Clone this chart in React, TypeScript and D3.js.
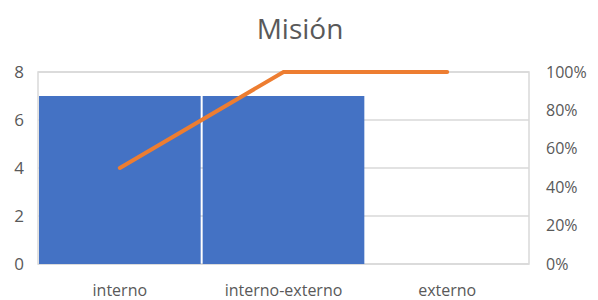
import React, { useRef, useEffect } from 'react';
import * as d3 from 'd3';

const categories = ['interno', 'interno-externo', 'externo'];
const counts = [7, 7, 0];
const cumulativePct = [0.5, 1, 1];
const leftTicks = [0, 2, 4, 6, 8];
const rightTicks = [0, 0.2, 0.4, 0.6, 0.8, 1];

const App: React.FC = () => {
  const svgRef = useRef<SVGSVGElement>(null);

  useEffect(() => {
    if (!svgRef.current) return;
    const svg = d3.select(svgRef.current);
    svg.selectAll('*').remove();

    const left = 38, right = 529, top = 72, bottom = 264;
    const font = "'Open Sans', sans-serif";
    const textColor = '#595959';

    const x = d3.scaleBand().domain(categories).range([left, right]).padding(0);
    const y = d3.scaleLinear().domain([0, 8]).range([bottom, top]);
    const y2 = d3.scaleLinear().domain([0, 1]).range([bottom, top]);

    svg.append('rect').attr('width', 598).attr('height', 300).attr('fill', '#fff');

    // Title
    svg.append('text')
      .attr('x', 300).attr('y', 39)
      .attr('text-anchor', 'middle')
      .style('font-family', font).style('font-size', '28px')
      .style('fill', textColor)
      .text('Misión');

    // Gridlines
    svg.append('g').selectAll('line').data(leftTicks).enter().append('line')
      .attr('x1', left).attr('x2', right)
      .attr('y1', d => y(d)).attr('y2', d => y(d))
      .attr('stroke', '#d9d9d9').attr('stroke-width', 1.5);

    svg.append('rect')
      .attr('x', left).attr('y', top)
      .attr('width', right - left).attr('height', bottom - top)
      .attr('fill', 'none').attr('stroke', '#d9d9d9').attr('stroke-width', 1.5);

    // Bars
    svg.append('g').selectAll('rect').data(counts).enter().append('rect')
      .attr('x', (d, i) => x(categories[i])! + 1)
      .attr('width', x.bandwidth() - 2)
      .attr('y', d => y(d))
      .attr('height', d => bottom - y(d))
      .attr('fill', '#4472C4');

    // Cumulative line
    const line = d3.line<number>()
      .x((d, i) => x(categories[i])! + x.bandwidth() / 2)
      .y(d => y2(d));
    svg.append('path')
      .datum(cumulativePct)
      .attr('d', line)
      .attr('fill', 'none')
      .attr('stroke', '#ED7D31')
      .attr('stroke-width', 4)
      .attr('stroke-linecap', 'round');

    // Left axis labels
    svg.append('g').selectAll('text').data(leftTicks).enter().append('text')
      .attr('x', 24).attr('y', d => y(d))
      .attr('dy', '0.35em')
      .attr('text-anchor', 'end')
      .style('font-family', font).style('font-size', '17px')
      .style('fill', textColor)
      .text(d => d);

    // Right axis labels
    svg.append('g').selectAll('text').data(rightTicks).enter().append('text')
      .attr('x', 546).attr('y', d => y2(d))
      .attr('dy', '0.35em')
      .attr('text-anchor', 'start')
      .style('font-family', font).style('font-size', '16px')
      .style('fill', textColor)
      .text(d => d3.format('.0%')(d));

    // Category labels
    svg.append('g').selectAll('text').data(categories).enter().append('text')
      .attr('x', d => x(d)! + x.bandwidth() / 2)
      .attr('y', 296)
      .attr('text-anchor', 'middle')
      .style('font-family', font).style('font-size', '16px')
      .style('fill', textColor)
      .text(d => d);
  }, []);

  return (
    <svg ref={svgRef} width={598} height={300}
      style={{ position: 'absolute', left: 0, top: 0, display: 'block' }} />
  );
};

export default App;
